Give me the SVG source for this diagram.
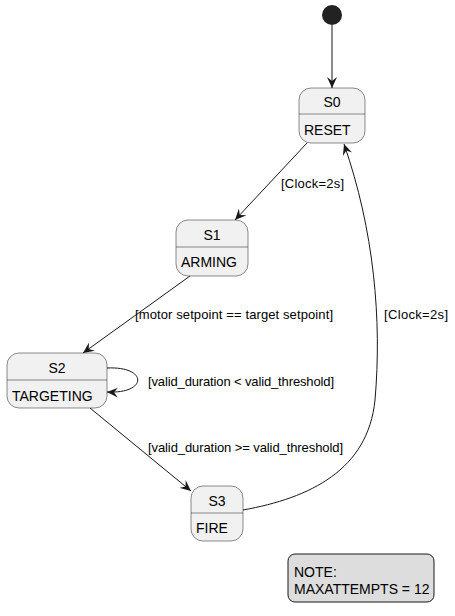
<svg xmlns="http://www.w3.org/2000/svg" width="455" height="616" viewBox="0 0 455 616">
<defs>
<marker id="arr" viewBox="0 0 12 10" refX="11" refY="5" markerWidth="12" markerHeight="10" markerUnits="userSpaceOnUse" orient="auto">
<path d="M0,0 L11,5 L0,10 L4,5 Z" fill="#181818"/>
</marker>
</defs>
<style>
.st{fill:#F1F1F1;stroke:#181818;stroke-width:0.5}
.dv{stroke:#181818;stroke-width:0.5}
.t{font-family:"Liberation Sans",Arial,sans-serif;font-size:14px;fill:#000}
.l{font-family:"Liberation Sans",Arial,sans-serif;font-size:13px;fill:#000}
.e{fill:none;stroke:#181818;stroke-width:1;marker-end:url(#arr)}
</style>
<rect width="455" height="616" fill="#fff"/>
<g id="connectors">
<path class="e" d="M332,25 L332,88"/>
<path class="e" d="M307,143 L235,220"/>
<text class="l" x="281" y="188" textLength="63">[Clock=2s]</text>
<path class="e" d="M190,276 L83,353"/>
<text class="l" x="135" y="319" textLength="198">[motor setpoint == target setpoint]</text>
<path class="e" d="M107,368 C148,366 148,394 107,392"/>
<text class="l" x="148" y="386" textLength="186">[valid_duration &lt; valid_threshold]</text>
<path class="e" d="M90,408 L191,491"/>
<text class="l" x="148" y="452" textLength="195">[valid_duration &gt;= valid_threshold]</text>
<path class="e" d="M243,510 C310,498 368,470 375,400 C382,320 374,230 344,144"/>
<text class="l" x="384" y="319" textLength="64">[Clock=2s]</text>
</g>
<g id="start"><circle cx="332" cy="15" r="10" fill="#222"/></g>
<g id="S0">
<rect class="st" x="299" y="88" width="66" height="55" rx="12"/>
<line class="dv" x1="299" y1="114" x2="365" y2="114"/>
<text class="t" x="332" y="107" text-anchor="middle">S0</text>
<text class="t" x="304" y="135">RESET</text>
</g>
<g id="S1">
<rect class="st" x="176" y="220" width="72" height="56" rx="12"/>
<line class="dv" x1="176" y1="247" x2="248" y2="247"/>
<text class="t" x="212" y="240" text-anchor="middle">S1</text>
<text class="t" x="181" y="267">ARMING</text>
</g>
<g id="S2">
<rect class="st" x="7" y="353" width="100" height="55" rx="12"/>
<line class="dv" x1="7" y1="380" x2="107" y2="380"/>
<text class="t" x="57" y="373" text-anchor="middle">S2</text>
<text class="t" x="12" y="401">TARGETING</text>
</g>
<g id="S3">
<rect class="st" x="191" y="486" width="52" height="55" rx="12"/>
<line class="dv" x1="191" y1="513" x2="243" y2="513"/>
<text class="t" x="217" y="506" text-anchor="middle">S3</text>
<text class="t" x="196" y="533">FIRE</text>
</g>
<g id="note">
<rect x="288" y="554" width="146" height="48" rx="7" fill="#DDDDDD" stroke="#181818" stroke-width="1"/>
<text class="t" x="294" y="577">NOTE:</text>
<text class="t" x="294" y="594">MAXATTEMPTS = 12</text>
</g>
</svg>
